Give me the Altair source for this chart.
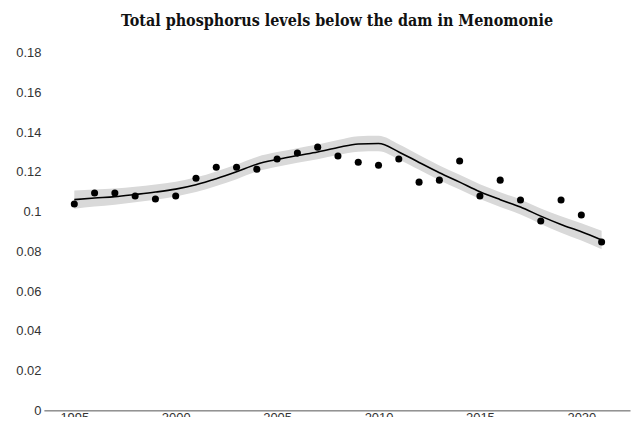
import altair as alt
import pandas as pd

years = list(range(1995, 2022))
observed = [0.1038, 0.1093, 0.1093, 0.1078, 0.1063, 0.1078, 0.1168, 0.1223, 0.1223, 0.1213,
            0.1264, 0.1294, 0.1324, 0.1279, 0.1248, 0.1233, 0.1264, 0.1148, 0.1158, 0.1254,
            0.1078, 0.1158, 0.1058, 0.0953, 0.1058, 0.0983, 0.0847]
fitted = [0.1060, 0.1068, 0.1075, 0.1086, 0.1098, 0.1113, 0.1135, 0.1165, 0.1200, 0.1238,
          0.1262, 0.1282, 0.1300, 0.1322, 0.1340, 0.1342, 0.1300, 0.1247, 0.1195, 0.1148,
          0.1100, 0.1060, 0.1023, 0.0977, 0.0935, 0.0898, 0.0857]
band_half = [0.0046, 0.0043, 0.0041, 0.0039, 0.0038, 0.0037, 0.0037, 0.0037, 0.0037, 0.0037,
             0.0037, 0.0037, 0.0037, 0.0038, 0.0039, 0.0039, 0.0038, 0.0037, 0.0037, 0.0037,
             0.0037, 0.0037, 0.0038, 0.0039, 0.0041, 0.0043, 0.0046]

df = pd.DataFrame({
    "year": years,
    "observed": observed,
    "fit": fitted,
    "lo": [f - b for f, b in zip(fitted, band_half)],
    "hi": [f + b for f, b in zip(fitted, band_half)],
})

x = alt.X("year:Q",
          scale=alt.Scale(domain=[1993.5, 2022.4], nice=False, zero=False),
          axis=alt.Axis(values=[1995, 2000, 2005, 2010, 2015, 2020], format="d",
                        ticks=False, grid=False, domain=True, domainColor="#555",
                        domainWidth=1, labelPadding=1, labelFontSize=13,
                        labelColor="#333", labelFont="Liberation Sans", title=None))
yscale = alt.Scale(domain=[0, 0.18], nice=False)
yaxis = alt.Axis(values=[0, 0.02, 0.04, 0.06, 0.08, 0.1, 0.12, 0.14, 0.16, 0.18],
                 format="~g", ticks=False, grid=False, domain=False, labelPadding=3,
                 labelFontSize=13, labelColor="#333", labelFont="Liberation Sans", title=None)

band = alt.Chart(df).mark_area(color="#d9d9d9", interpolate="monotone").encode(
    x=x, y=alt.Y("lo:Q", scale=yscale, axis=yaxis), y2="hi:Q")
line = alt.Chart(df).mark_line(color="black", strokeWidth=1.6, interpolate="monotone").encode(
    x=x, y=alt.Y("fit:Q", scale=yscale, axis=yaxis))
pts = alt.Chart(df).mark_circle(color="black", size=50, opacity=1).encode(
    x=x, y=alt.Y("observed:Q", scale=yscale, axis=yaxis))

chart = alt.layer(band, line, pts).properties(
    width=588, height=359,
    autosize=alt.AutoSizeParams(type="none"),
    padding={"left": 36, "top": 44, "right": 2, "bottom": 6},
    title=alt.TitleParams("Total phosphorus levels below the dam in Menomonie",
                          font="DejaVu Serif Condensed", fontSize=16, fontWeight="bold",
                          color="#111", anchor="middle", offset=18),
).configure_view(stroke=None)

chart.save("out.html", embed_options={"renderer": "svg", "actions": False})
